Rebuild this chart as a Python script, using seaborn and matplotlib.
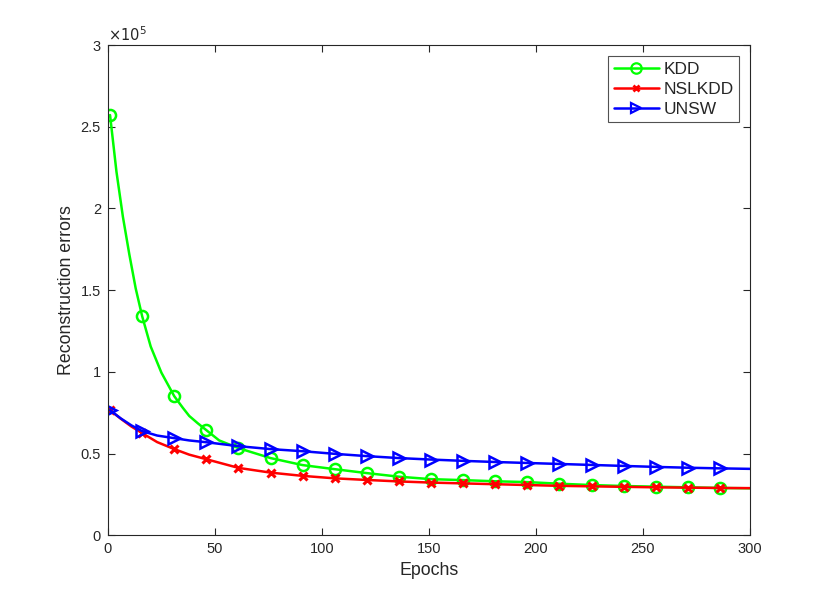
import numpy as np
import pandas as pd
import matplotlib
matplotlib.use("Agg")
import matplotlib.pyplot as plt
from matplotlib.lines import Line2D
import seaborn as sns

# ---- data ----
marker_epochs = [1, 16, 31, 46, 61, 76, 91, 106, 121, 136, 151, 166, 181, 196, 211, 226, 241, 256, 271, 286]
kdd = [257200, 134100, 85100, 64300, 53300, 47200, 42900, 40400, 38000, 35800, 34300,
       33700, 33000, 32500, 31500, 30700, 30100, 29700, 29300, 28900]
nslkdd = [76500, 62500, 52700, 46500, 41200, 38300, 36300, 34800, 33800, 32900, 32200,
          31700, 31200, 30700, 30200, 29900, 29600, 29300, 29100, 28900]
unsw = [76500, 63700, 59400, 56900, 54500, 52700, 51400, 49800, 48400, 47200, 46300,
        45500, 44800, 44200, 43600, 43000, 42400, 41800, 41300, 40900]
# extra points (between markers, and line end at 300)
kdd_extra_epochs = [4, 7, 10, 13, 20, 25, 35, 38, 42, 52, 300]
kdd_extra = [222500, 195000, 172000, 151000, 115500, 99500, 78000, 73000, 68500, 58000, 28700]
nslkdd_extra_epochs = [6, 11, 23, 38, 300]
nslkdd_extra = [71300, 66500, 57000, 49300, 28800]
unsw_extra_epochs = [6, 11, 23, 38, 300]
unsw_extra = [71500, 67200, 61000, 58000, 40600]

names = ["KDD", "NSLKDD", "UNSW"]
colors = ["#00ff00", "#ff0000", "#0000ff"]
markers = ["o", "x", ">"]

sns.set_theme(style="white")
plt.rcParams["font.family"] = ["Liberation Sans", "DejaVu Sans"]

fig = plt.figure(figsize=(8.3, 6.02), dpi=100)
ax = fig.add_axes([0.130, 0.111, 0.7735, 0.814])

series = [
    (kdd, kdd_extra_epochs, kdd_extra),
    (nslkdd, nslkdd_extra_epochs, nslkdd_extra),
    (unsw, unsw_extra_epochs, unsw_extra),
]
handles = []
for (vals, ex_e, ex_v), name, c, m in zip(series, names, colors, markers):
    line_df = pd.DataFrame({"epoch": marker_epochs + ex_e, "value": vals + ex_v}).sort_values("epoch")
    sns.lineplot(data=line_df, x="epoch", y="value", color=c, lw=1.8, ax=ax,
                 estimator=None, sort=True, legend=False)
    mk_df = pd.DataFrame({"epoch": marker_epochs, "value": vals})
    if m == "x":
        mkw = dict(markeredgecolor=c, markeredgewidth=2.2, markersize=5.5)
        lkw = dict(markeredgecolor=c, markeredgewidth=2.0, markersize=5)
    else:
        mkw = dict(markerfacecolor="none", markeredgecolor=c, markeredgewidth=1.8, markersize=8)
        lkw = dict(markerfacecolor="none", markeredgecolor=c, markeredgewidth=1.6, markersize=7.5)
    sns.lineplot(data=mk_df, x="epoch", y="value", color=c, linestyle="", marker=m,
                 ax=ax, estimator=None, legend=False, **mkw)
    handles.append(Line2D([], [], color=c, lw=1.8, marker=m, label=name, **lkw))

ax.set_xlim(0, 300)
ax.set_ylim(0, 300000)
xticks = [0, 50, 100, 150, 200, 250, 300]
yticks = [0, 50000, 100000, 150000, 200000, 250000, 300000]
ytick_labels = ["0", "0.5", "1", "1.5", "2", "2.5", "3"]
ax.set_xticks(xticks)
ax.set_xticklabels([str(t) for t in xticks])
ax.set_yticks(yticks)
ax.set_yticklabels(ytick_labels)

dark = "#262626"
for s in ax.spines.values():
    s.set_visible(True)
    s.set_color(dark)
    s.set_linewidth(0.8)
ax.tick_params(direction="in", length=5, width=0.8, colors=dark, labelsize=10.5,
               top=True, right=True, bottom=True, left=True, pad=5)
ax.grid(False)
ax.set_xlabel("Epochs", fontsize=12.8, color=dark, labelpad=4)
ax.set_ylabel("Reconstruction errors", fontsize=12.8, color=dark, labelpad=4)
ax.text(0.0, 1.002, r"$\times10^5$", transform=ax.transAxes, fontsize=10.5,
        color=dark, ha="left", va="bottom")

leg = ax.legend(handles=handles, loc="upper right", fontsize=12.5, frameon=True,
                fancybox=False, edgecolor=dark, borderpad=0.3, labelspacing=0.29,
                handlelength=2.6, handletextpad=0.25, borderaxespad=0.65)
leg.get_frame().set_linewidth(0.8)

fig.savefig("out.png", dpi=100, facecolor="white")
